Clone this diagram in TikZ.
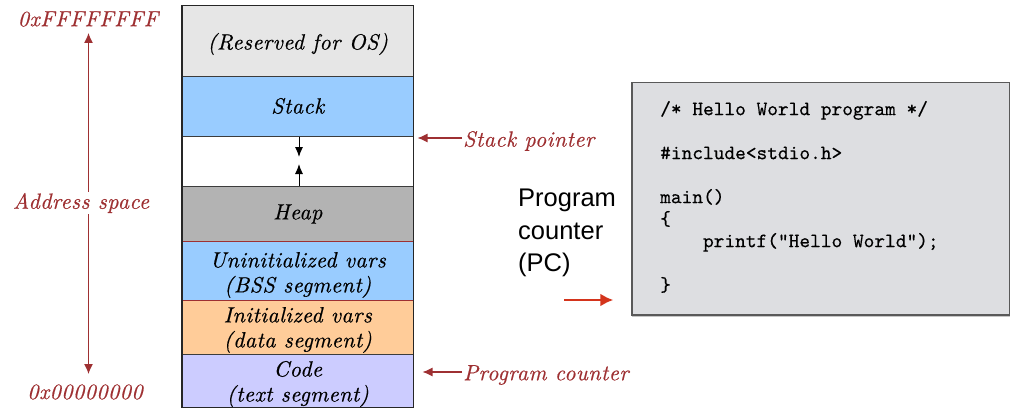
\documentclass[tikz,border=0pt]{standalone}
\usepackage{fontspec}
\usetikzlibrary{arrows.meta,shadows}
\newfontfamily\handfont{lmroman10-italic}[Extension=.otf,LetterSpace=2,FakeBold=0.5]
\newfontfamily\codefont{lmmono10-regular}[Extension=.otf,FakeBold=0.3]
\newfontfamily\labelfont{Liberation Sans}
\definecolor{axisred}{RGB}{158,48,50}
\definecolor{pcred}{RGB}{212,52,28}
\definecolor{reservedfill}{RGB}{230,230,230}
\definecolor{stackfill}{RGB}{153,204,255}
\definecolor{heapfill}{RGB}{179,179,179}
\definecolor{datafill}{RGB}{255,204,153}
\definecolor{codefill}{RGB}{204,204,255}
\definecolor{listingfill}{RGB}{221,222,225}
\definecolor{rowline}{RGB}{60,60,60}
\tikzset{
  segment/.style={draw=rowline, line width=1pt, minimum width=230.5pt,
    inner sep=0pt, align=center},
  segtext/.style={inner sep=0pt, align=center, font=\handfont\fontsize{22}{25}\selectfont},
  handlabel/.style={text=axisred, inner sep=1pt, font=\handfont\fontsize{22}{24}\selectfont},
  redarrow/.style={draw=axisred, line width=1.2pt, -{Latex[length=10pt,width=9pt]}},
  growarrow/.style={draw=black, line width=1pt, -{Latex[length=10pt,width=8pt]}},
  codeline/.style={anchor=mid west, inner sep=0pt, font=\codefont\fontsize{20.4}{22}\selectfont},
}
\begin{document}
\begin{tikzpicture}[x=1pt,y=-1pt]
\useasboundingbox (0,0) rectangle (1010,412);

% memory layout, top to bottom
\node[segment, fill=reservedfill, minimum height=71pt] (reserved) at (297.75,41.5) {};
\node[segtext] (reservedtxt) at (297.75,44) {(Reserved for OS)};
\node[segment, fill=stackfill, minimum height=59pt] (stack) at (297.75,106.5) {};
\node[segtext] (stacktxt) at (297.75,106) {Stack};
\node[segment, fill=white, minimum height=50pt] (gap) at (297.75,161) {};
\node[segment, fill=heapfill, minimum height=55pt] (heap) at (297.75,213.5) {};
\node[segtext] (heaptxt) at (297.75,214) {Heap};
\node[segment, fill=datafill, minimum height=54pt] (data) at (297.75,327) {};
\node[segtext] (datatxt) at (297.75,330) {Initialized vars\\(data segment)};
\node[segment, fill=codefill, minimum height=53pt] (text) at (297.75,380.5) {};
\node[segtext] (texttxt) at (297.75,384) {Code\\(text segment)};
\node[segment, draw=axisred, fill=stackfill, minimum height=59pt] (bss) at (297.75,270.5) {};
\node[segtext] (bsstxt) at (297.75,275) {Uninitialized vars\\(BSS segment)};
\draw[line width=1.5pt, draw=black!85] (reserved.north west) rectangle (text.south east);

% stack and heap grow towards each other
\coordinate (stackgrow) at (299,157);
\coordinate (heapgrow) at (299,164);
\draw[growarrow] (stack.south -| stackgrow) -- (stackgrow);
\draw[growarrow] (heap.north -| heapgrow) -- (heapgrow);

% address axis
\node[handlabel] (hiaddr) at (88,19) {0xFFFFFFFF};
\node[handlabel] (addrspace) at (81,203) {Address space};
\node[handlabel] (loaddr) at (85,392) {0x00000000};
\coordinate (axistop) at (88.5,33);
\coordinate (axisbot) at (88.5,374);
\draw[redarrow] (addrspace.north -| axistop) -- (axistop);
\draw[redarrow] (addrspace.south -| axisbot) -- (axisbot);

% pointer labels
\node[handlabel, anchor=west] (sp) at (462,141) {Stack pointer};
\node[handlabel, anchor=west] (pc) at (462,375) {Program counter};
\draw[redarrow, shorten >=4pt] ([yshift=3pt]sp.west) -- ([yshift=3pt]sp.west -| gap.east);
\draw[redarrow, shorten >=9pt] ([yshift=3pt]pc.west) -- ([yshift=3pt]pc.west -| text.east);

% program listing
\node[draw=black!65, line width=1.3pt, fill=listingfill, minimum width=378pt, minimum height=232.5pt,
  inner sep=0pt, drop shadow={shadow xshift=0pt, shadow yshift=-2pt, opacity=0.45}] (listing) at (821,198.75) {};
\node[codeline] (l1) at (660,113) {/* Hello World program */};
\node[codeline] (l2) at (660,157) {\#include<stdio.h>};
\node[codeline] (l3) at (660,201) {main()};
\node[codeline] (l4) at (660,223) {\{};
\node[codeline] (l5) at (660,245) {\ \ \ \ printf("Hello World");};
\node[codeline] (l6) at (660,289) {\}};

% program counter pointing into the listing
\node[anchor=north west, inner sep=0pt, align=left, font=\labelfont\fontsize{25.5}{32.5}\selectfont] (pclabel) at (518,189) {Program\\counter\\(PC)};
\coordinate (pcstart) at (564,300);
\draw[draw=pcred, line width=2.6pt, -{Latex[length=13pt,width=13pt]}, shorten >=18pt] (pcstart) -- (pcstart -| listing.west);
\end{tikzpicture}
\end{document}
